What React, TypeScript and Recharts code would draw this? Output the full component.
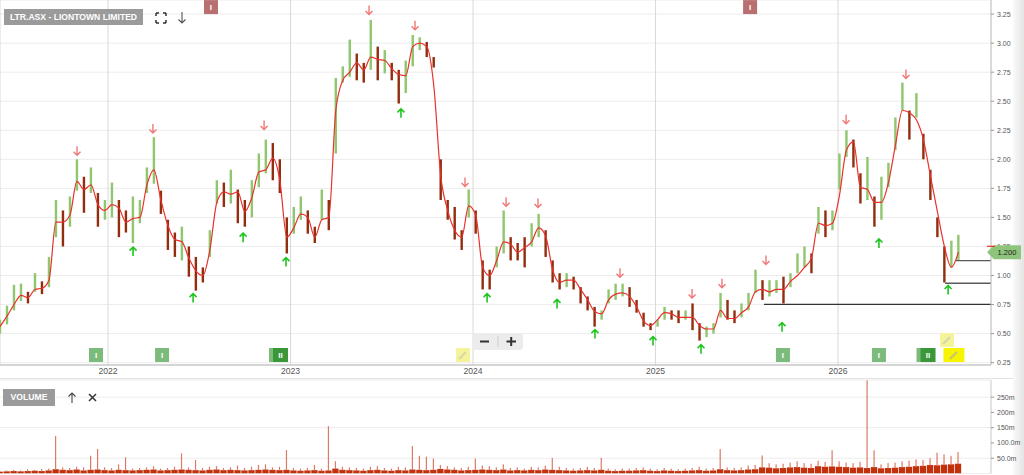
import React from 'react';
import {
  ComposedChart,
  Bar,
  Line,
  Scatter,
  XAxis,
  YAxis,
  CartesianGrid,
  ReferenceLine,
  ReferenceDot
} from 'recharts';

// time axis: decimal years, one sample every two weeks
const START = 2021.408;
const STEP = 14 / 365.25;
const X_DOMAIN: [number, number] = [2021.408, 2026.838];
const Y_DOMAIN: [number, number] = [0.23, 3.371];
const yearTicks = [2022, 2023, 2024, 2025, 2026];
const priceTicks = [0.25, 0.5, 0.75, 1, 1.25, 1.5, 1.75, 2, 2.25, 2.5, 2.75, 3, 3.25];
const volTicks = [50, 100, 150, 200, 250];
const volTickLabels: Record<number, string> = { 50: '50.0m', 100: '100.0m', 150: '150m', 200: '200m', 250: '250m' };

// red moving average
const ma = [
  0.56, 0.65, 0.75, 0.83, 0.81, 0.88, 0.89, 0.96, 1.46, 1.46,
  1.52, 1.81, 1.74, 1.78, 1.61, 1.56, 1.61, 1.58, 1.46, 1.49,
  1.5, 1.78, 1.91, 1.65, 1.43, 1.31, 1.29, 1.15, 1.04, 1.0,
  1.22, 1.63, 1.72, 1.7, 1.72, 1.55, 1.67, 1.89, 1.91, 2.01,
  1.82, 1.33, 1.41, 1.53, 1.5, 1.33, 1.48, 1.5, 2.42, 2.68,
  2.75, 2.83, 2.77, 2.88, 2.86, 2.85, 2.78, 2.73, 2.72, 2.97,
  3.0, 2.97, 2.64, 1.86, 1.56, 1.39, 1.33, 1.6, 1.52, 1.07,
  1.0, 1.13, 1.29, 1.27, 1.2, 1.24, 1.29, 1.41, 1.34, 1.05,
  0.94, 0.96, 0.96, 0.88, 0.79, 0.69, 0.67, 0.79, 0.84, 0.85,
  0.82, 0.73, 0.61, 0.57, 0.62, 0.68, 0.67, 0.64, 0.64, 0.64,
  0.57, 0.54, 0.54, 0.7, 0.63, 0.63, 0.68, 0.73, 0.86, 0.88,
  0.86, 0.88, 0.88, 0.95, 1.0, 1.07, 1.15, 1.45, 1.43, 1.45,
  1.69, 2.08, 2.15, 1.76, 1.74, 1.63, 1.63, 1.8, 2.12, 2.42,
  2.4, 2.34, 2.17, 1.86, 1.55, 1.25, 1.07, 1.2
];

// price range in each two week period
const lows = [
  0.5, 0.58, 0.7, 0.78, 0.76, 0.86, 0.84, 0.9, 1.33, 1.25,
  1.42, 1.73, 1.54, 1.71, 1.42, 1.48, 1.5, 1.33, 1.37, 1.28,
  1.45, 1.71, 1.79, 1.53, 1.22, 1.16, 1.13, 0.99, 0.87, 0.94,
  1.16, 1.62, 1.59, 1.62, 1.45, 1.42, 1.5, 1.76, 1.88, 1.82,
  1.71, 1.19, 1.36, 1.48, 1.36, 1.28, 1.48, 1.39, 2.05, 2.66,
  2.71, 2.68, 2.66, 2.77, 2.68, 2.74, 2.68, 2.48, 2.57, 2.8,
  2.94, 2.88, 2.79, 1.65, 1.48, 1.31, 1.22, 1.5, 1.36, 0.88,
  0.88, 1.07, 1.19, 1.13, 1.13, 1.07, 1.25, 1.33, 1.16, 0.94,
  0.88, 0.9, 0.88, 0.76, 0.7, 0.56, 0.62, 0.76, 0.79, 0.82,
  0.73, 0.68, 0.56, 0.53, 0.56, 0.62, 0.62, 0.59, 0.62, 0.53,
  0.44, 0.47, 0.5, 0.64, 0.62, 0.59, 0.64, 0.7, 0.85, 0.79,
  0.82, 0.85, 0.76, 0.9, 1.02, 1.07, 1.02, 1.36, 1.33, 1.39,
  1.74, 2.02, 1.93, 1.62, 1.65, 1.42, 1.48, 1.76, 2.08, 2.42,
  2.17, 2.36, 2.0, 1.65, 1.33, 0.94, 1.07, 1.13
];
const highs = [
  0.62, 0.74, 0.92, 0.93, 0.86, 1.02, 0.95, 1.16, 1.65, 1.56,
  1.68, 2.0, 1.85, 1.93, 1.71, 1.65, 1.8, 1.65, 1.56, 1.68,
  1.65, 1.93, 2.19, 1.73, 1.48, 1.37, 1.42, 1.25, 1.16, 1.07,
  1.39, 1.82, 1.8, 1.91, 1.74, 1.65, 1.82, 2.05, 2.17, 2.14,
  2.0, 1.5, 1.59, 1.68, 1.56, 1.42, 1.74, 1.65, 2.7, 2.8,
  3.03, 2.91, 2.83, 3.2, 2.97, 2.94, 2.83, 2.77, 2.85, 3.07,
  3.05, 3.01, 2.88, 2.0, 1.65, 1.59, 1.39, 1.74, 1.56, 1.13,
  1.05, 1.25, 1.56, 1.33, 1.28, 1.33, 1.45, 1.53, 1.39, 1.13,
  1.02, 1.02, 0.99, 0.9, 0.82, 0.73, 0.7, 0.88, 0.93, 0.93,
  0.9, 0.79, 0.68, 0.59, 0.62, 0.73, 0.7, 0.7, 0.7, 0.76,
  0.59, 0.56, 0.59, 0.85, 0.79, 0.7, 0.76, 0.85, 1.05, 0.96,
  0.96, 0.96, 0.99, 1.02, 1.19, 1.25, 1.19, 1.59, 1.56, 1.56,
  2.05, 2.25, 2.17, 1.88, 2.02, 1.68, 1.85, 1.97, 2.36, 2.66,
  2.42, 2.57, 2.22, 1.91, 1.5, 1.25, 1.3, 1.35
];

// volume in millions: typical level and biggest day of each period
const volBase = [
  6, 7, 8, 7, 8, 9, 8, 10, 14, 12,
  11, 13, 10, 12, 13, 11, 10, 12, 11, 10,
  11, 12, 13, 10, 11, 12, 13, 12, 11, 10,
  12, 13, 11, 12, 11, 10, 11, 12, 13, 12,
  11, 12, 10, 9, 10, 11, 9, 10, 16, 12,
  11, 10, 9, 11, 12, 10, 9, 11, 10, 13,
  12, 11, 12, 15, 13, 12, 10, 11, 12, 13,
  12, 11, 13, 10, 11, 10, 12, 11, 13, 12,
  11, 10, 9, 10, 11, 10, 12, 9, 8, 9,
  9, 10, 11, 9, 8, 10, 9, 8, 9, 10,
  11, 9, 10, 14, 11, 10, 11, 13, 14, 20,
  19, 17, 18, 20, 21, 19, 18, 24, 22, 23,
  22, 21, 19, 20, 18, 21, 17, 18, 19, 21,
  22, 24, 25, 28, 27, 29, 30, 32
];
const volPeak = [
  9, 10, 12, 10, 14, 12, 15, 16, 123, 20,
  18, 22, 20, 58, 80, 20, 18, 30, 53, 16,
  18, 20, 24, 16, 18, 22, 66, 20, 44, 18,
  22, 24, 18, 20, 26, 18, 22, 28, 30, 20,
  22, 77, 18, 16, 18, 28, 16, 155, 40, 22,
  20, 18, 16, 22, 24, 18, 16, 22, 20, 90,
  58, 55, 49, 28, 24, 20, 18, 22, 49, 26,
  24, 20, 30, 18, 20, 16, 22, 20, 26, 51,
  22, 18, 16, 18, 22, 18, 51, 16, 14, 16,
  16, 18, 20, 16, 14, 18, 16, 14, 16, 18,
  22, 16, 18, 80, 20, 18, 20, 26, 28, 59,
  34, 30, 32, 36, 40, 34, 32, 42, 38, 76,
  40, 36, 34, 38, 305, 76, 30, 34, 36, 40,
  42, 46, 44, 50, 68, 63, 58, 70
];

// signal arrows (decimal year, price)
const downArrows = [
  { t: 2021.83, p: 2.07 }, { t: 2022.246, p: 2.26 }, { t: 2022.855, p: 2.29 },
  { t: 2023.43, p: 3.28 }, { t: 2023.682, p: 3.15 }, { t: 2023.956, p: 1.8 },
  { t: 2024.181, p: 1.63 }, { t: 2024.356, p: 1.62 }, { t: 2024.805, p: 1.02 },
  { t: 2025.2, p: 0.84 }, { t: 2025.364, p: 0.93 }, { t: 2025.605, p: 1.13 },
  { t: 2026.044, p: 2.34 }, { t: 2026.372, p: 2.73 }
];
const upArrows = [
  { t: 2022.137, p: 1.21 }, { t: 2022.466, p: 0.81 }, { t: 2022.74, p: 1.33 },
  { t: 2022.975, p: 1.12 }, { t: 2023.605, p: 2.4 }, { t: 2024.077, p: 0.81 },
  { t: 2024.46, p: 0.76 }, { t: 2024.668, p: 0.5 }, { t: 2024.986, p: 0.44 },
  { t: 2025.249, p: 0.37 }, { t: 2025.693, p: 0.56 }, { t: 2026.224, p: 1.28 },
  { t: 2026.603, p: 0.88 }
];

// event flags
const bottomEvents = [
  { t: 2021.934, label: 'I' }, { t: 2022.296, label: 'I' }, { t: 2022.945, label: 'II' },
  { t: 2025.698, label: 'I' }, { t: 2026.224, label: 'I' }, { t: 2026.493, label: 'II' }
];
const topEvents = [{ t: 2022.564 }, { t: 2025.518 }];
const notes = [
  { t: 2023.945, p: 0.316, big: false },
  { t: 2026.597, p: 0.445, big: false },
  { t: 2026.635, p: 0.316, big: true }
];

// drawn levels: price, start
const levels = [
  { p: 0.752, from: 2025.594, color: '#333' },
  { p: 0.933, from: 2026.586, color: '#5a5a5a' },
  { p: 1.128, from: 2026.646, color: '#5a5a5a' }
];
const lastPrice = 1.2;

const priceData = ma.map((m, i) => ({
  t: START + i * STEP,
  ma: m,
  floor: lows[i],
  span: highs[i] - lows[i],
  up: i === 0 || lows[i] + highs[i] >= lows[i - 1] + highs[i - 1]
}));
const volData = volPeak.map((v, i) => ({ t: START + i * STEP, vol: v, base: volBase[i] }));
const tagData = [{ t: X_DOMAIN[1], p: lastPrice }];

const FONT = '"Liberation Sans", Arial, sans-serif';

const PriceBar = (props: any) => {
  const { x, y, width, height } = props;
  const d = props.payload ?? props;
  if (height == null || isNaN(height)) return null;
  return (
    <rect x={x + width / 2 - 1.2} y={y} width={2.4} height={Math.max(height, 1)} fill={d.up ? '#8fc66e' : '#922d0f'} />
  );
};

const DownArrow = (props: any) => {
  const { cx, cy } = props;
  return (
    <path
      d={`M${cx} ${cy - 5}V${cy + 4}M${cx - 3.5} ${cy + 0.5}L${cx} ${cy + 4}L${cx + 3.5} ${cy + 0.5}`}
      stroke="#f07878" strokeWidth={1.4} fill="none"
    />
  );
};

const UpArrow = (props: any) => {
  const { cx, cy } = props;
  return (
    <path
      d={`M${cx} ${cy + 5}V${cy - 4}M${cx - 3.5} ${cy - 0.5}L${cx} ${cy - 4}L${cx + 3.5} ${cy - 0.5}`}
      stroke="#1fc41f" strokeWidth={1.6} fill="none"
    />
  );
};

const EventFlag = ({ cx, cy, label, fill }: any) => {
  const w = label === 'II' ? 15 : 14;
  return (
    <g>
      {label === 'II' && <rect x={cx - w / 2 - 4} y={cy - 7} width={w} height={14} fill="#7dbb7d" />}
      <rect x={cx - w / 2} y={cy - 7} width={w} height={14} fill={fill} />
      <text x={cx} y={cy + 3} textAnchor="middle" fontSize={8} fontFamily={FONT} fontWeight="bold" fill="#fff">
        {label}
      </text>
    </g>
  );
};

const NoteFlag = ({ cx, cy, big }: any) => {
  const w = big ? 21 : 14;
  return (
    <g>
      <rect x={cx - w / 2} y={cy - 7} width={w} height={14} fill={big ? '#f6f400' : '#f6f49a'} />
      <path d={`M${cx - 4} ${cy + 4}L${cx + 3} ${cy - 3}`} stroke={big ? '#c9c96a' : '#d8d8a8'} strokeWidth={2.4} />
    </g>
  );
};

const PriceTag = (props: any) => {
  const { cx, cy } = props;
  return (
    <g>
      <path d={`M${cx - 4} ${cy}L${cx + 3} ${cy - 7}H${cx + 30}V${cy + 7}H${cx + 3}Z`} fill="#8ec47c" />
      <path d={`M${cx - 4} ${cy - 6}H${cx + 4}`} stroke="#e8322b" strokeWidth={1.2} />
      <text x={cx + 16} y={cy + 3} textAnchor="middle" fontSize={7.5} fontFamily={FONT} fill="#222">
        {lastPrice.toFixed(3)}
      </text>
    </g>
  );
};

const VolumeShape = (props: any) => {
  const { x, y, width, height } = props;
  const d = props.payload ?? props;
  if (!height || height <= 0) return null;
  const bh = (height * d.base) / d.vol;
  return (
    <g>
      <rect x={x} y={y + height - bh} width={width} height={bh} fill="#c2300c" />
      <rect x={x + width / 2 - 0.6} y={y} width={1.2} height={height - bh + 0.5} fill="#dc7a66" />
    </g>
  );
};

const box: React.CSSProperties = {
  position: 'absolute',
  background: '#9b9b9b',
  color: '#fff',
  fontFamily: FONT,
  fontWeight: 'bold',
  fontSize: 8.6,
  lineHeight: '16px',
  height: 16,
  textAlign: 'center'
};

export default function App() {
  return (
    <div style={{ position: 'absolute', left: 0, top: 0, width: 1024, height: 475, overflow: 'hidden', background: '#fff' }}>
      {/* right scroll strip */}
      <div
        style={{
          position: 'absolute', left: 1013, top: 0, width: 11, height: 475,
          background: 'linear-gradient(to right, #fafafa, #e4e4e4)'
        }}
      />

      <div style={{ position: 'absolute', left: 0, top: 0 }}>
        <ComposedChart width={1024} height={380} data={priceData} margin={{ top: 0, right: 0, bottom: 0, left: 0 }}>
          <CartesianGrid vertical={false} stroke="#ececec" />
          <CartesianGrid horizontal={false} stroke="#d9d9d9" />
          <XAxis
            dataKey="t"
            type="number"
            domain={X_DOMAIN}
            ticks={yearTicks}
            allowDataOverflow
            height={15}
            tickLine={false}
            tickSize={0}
            tickMargin={3}
            axisLine={{ stroke: '#b5b5b5' }}
            tick={{ fontSize: 8.6, fill: '#555', fontFamily: FONT }}
          />
          <YAxis
            orientation="right"
            width={33}
            domain={Y_DOMAIN}
            ticks={priceTicks}
            allowDataOverflow
            tickSize={3}
            tickMargin={3}
            tickLine={{ stroke: '#999' }}
            axisLine={{ stroke: '#c8c8c8' }}
            tickFormatter={(v: number) => v.toFixed(2)}
            tick={{ fontSize: 7, fill: '#555', fontFamily: FONT }}
          />
          <Bar dataKey="floor" stackId="p" barSize={6} fill="none" isAnimationActive={false} />
          <Bar dataKey="span" stackId="p" barSize={6} shape={PriceBar} isAnimationActive={false} />
          <Line
            dataKey="ma"
            type="monotone"
            stroke="#e8322b"
            strokeWidth={1.2}
            dot={false}
            activeDot={false}
            isAnimationActive={false}
          />
          <Scatter data={downArrows} dataKey="p" shape={DownArrow} isAnimationActive={false} />
          <Scatter data={upArrows} dataKey="p" shape={UpArrow} isAnimationActive={false} />
          {levels.map((l, i) => (
            <ReferenceLine
              key={i}
              segment={[{ x: l.from, y: l.p }, { x: X_DOMAIN[1], y: l.p }]}
              stroke={l.color}
              strokeWidth={1.4}
            />
          ))}
          {bottomEvents.map((e, i) => (
            <ReferenceDot
              key={'b' + i}
              x={e.t}
              y={0.316}
              ifOverflow="visible"
              shape={(p: any) => (
                <EventFlag cx={p.cx} cy={p.cy} label={e.label} fill={e.label === 'II' ? '#3a973a' : '#7dbb7d'} />
              )}
            />
          ))}
          {topEvents.map((e, i) => (
            <ReferenceDot
              key={'t' + i}
              x={e.t}
              y={3.31}
              ifOverflow="visible"
              shape={(p: any) => <EventFlag cx={p.cx} cy={p.cy} label="I" fill="#b86f6f" />}
            />
          ))}
          {notes.map((n, i) => (
            <ReferenceDot
              key={'n' + i}
              x={n.t}
              y={n.p}
              ifOverflow="visible"
              shape={(p: any) => <NoteFlag cx={p.cx} cy={p.cy} big={n.big} />}
            />
          ))}
        </ComposedChart>
      </div>

      {/* last price tag, drawn over the axis labels with the same scales */}
      <div style={{ position: 'absolute', left: 0, top: 0 }}>
        <ComposedChart width={1024} height={380} data={tagData} margin={{ top: 0, right: 0, bottom: 0, left: 0 }}>
          <XAxis
            dataKey="t" type="number" domain={X_DOMAIN} height={15}
            tick={false} tickLine={false} axisLine={false}
          />
          <YAxis
            orientation="right" width={33} domain={Y_DOMAIN}
            tick={false} tickLine={false} axisLine={false}
          />
          <Scatter data={tagData} dataKey="p" shape={PriceTag} isAnimationActive={false} />
        </ComposedChart>
      </div>

      <div style={{ position: 'absolute', left: 0, top: 378, width: 1013, height: 1, background: '#e2e2e2' }} />

      <div style={{ position: 'absolute', left: 0, top: 379 }}>
        <ComposedChart width={1024} height={96} data={volData} margin={{ top: 1, right: 0, bottom: 1.5, left: 0 }}>
          <CartesianGrid vertical={false} stroke="#ececec" />
          <XAxis dataKey="t" type="number" domain={X_DOMAIN} allowDataOverflow hide />
          <YAxis
            orientation="right"
            width={33}
            domain={[0, 306]}
            ticks={volTicks}
            allowDataOverflow
            tickSize={3}
            tickMargin={3}
            tickLine={{ stroke: '#999' }}
            axisLine={{ stroke: '#c8c8c8' }}
            tickFormatter={(v: number) => volTickLabels[v]}
            tick={{ fontSize: 7, fill: '#555', fontFamily: FONT }}
          />
          <Bar dataKey="vol" barSize={7} shape={VolumeShape} isAnimationActive={false} />
        </ComposedChart>
      </div>

      {/* header */}
      <div style={{ ...box, left: 4, top: 9, width: 139 }}>LTR.ASX - LIONTOWN LIMITED</div>
      <svg style={{ position: 'absolute', left: 150, top: 8 }} width={40} height={18}>
        <path d="M6 5H9M6 5V8M16 5H13M16 5V8M6 15H9M6 15V12M16 15H13M16 15V12" stroke="#333" strokeWidth={1.5} fill="none" />
        <path d="M32 4V15M28.5 11.5L32 15L35.5 11.5" stroke="#555" strokeWidth={1.1} fill="none" />
      </svg>

      {/* zoom control */}
      <div style={{ position: 'absolute', left: 472, top: 333, width: 51, height: 17, background: '#ececec', borderRadius: 3 }}>
        <svg width={51} height={17}>
          <path d="M8 8.5H17M34.5 8.5H44M39.2 4V13" stroke="#333" strokeWidth={2} />
          <path d="M26 3V14" stroke="#ccc" strokeWidth={1} />
        </svg>
      </div>

      {/* volume header */}
      <div style={{ ...box, left: 3, top: 389, width: 52, height: 17 }}>VOLUME</div>
      <svg style={{ position: 'absolute', left: 64, top: 389 }} width={40} height={17}>
        <path d="M8 14V4M4.5 7.5L8 4L11.5 7.5" stroke="#444" strokeWidth={1.1} fill="none" />
        <path d="M25 5L32 12M32 5L25 12" stroke="#333" strokeWidth={1.5} />
      </svg>
    </div>
  );
}
